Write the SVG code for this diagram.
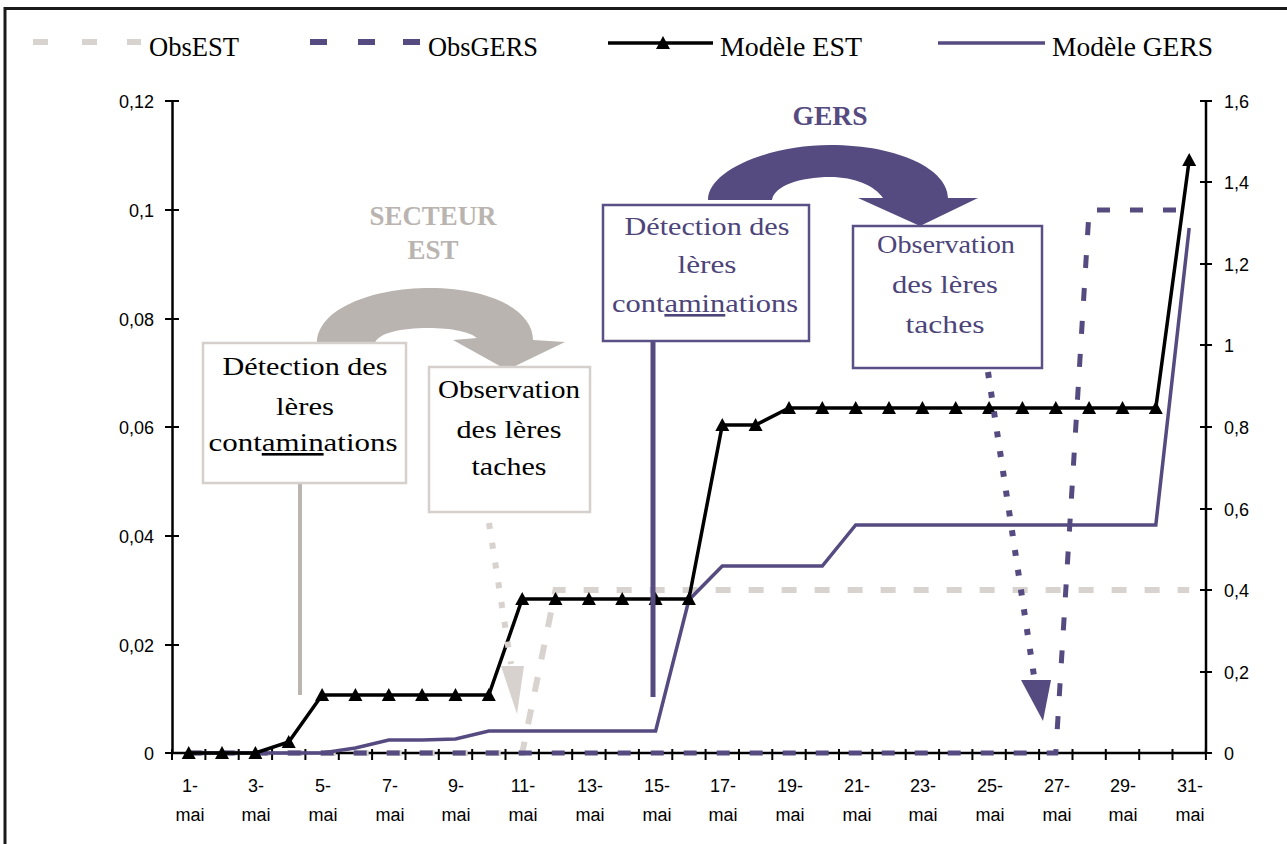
<svg xmlns="http://www.w3.org/2000/svg" width="1287" height="844" viewBox="0 0 1287 844">
<style>
.ser{font-family:"Liberation Serif","DejaVu Serif",serif;}
.sans{font-family:"Liberation Sans",Arial,sans-serif;font-size:18px;fill:#000;}
.leg{font-size:27px;fill:#000;}
.box{font-size:26px;text-anchor:middle;}
.axis{stroke:#000;stroke-width:2.5;fill:none;}
.tick{stroke:#000;stroke-width:2;}
.est{stroke:#000;stroke-width:3.5;fill:none;}
.gers{stroke:#564b80;stroke-width:3.5;fill:none;}
.obsest{stroke:#d9d3cf;stroke-width:6;fill:none;stroke-dasharray:15 18;}
.obsgers{stroke:#564b80;stroke-width:5;fill:none;stroke-dasharray:13 20;}
.gbox{fill:#fff;stroke:#d6d0cc;stroke-width:2.5;}
.pbox{fill:#fff;stroke:#5a5085;stroke-width:2.5;}
</style>
<defs>
<marker id="tri" markerUnits="userSpaceOnUse" markerWidth="16" markerHeight="16" viewBox="-8 -8 16 16" refX="0" refY="0" orient="0">
<path d="M0,-7 L7,6 L-7,6 Z" fill="#000"/>
</marker>
</defs>
<rect x="5" y="8.5" width="1290" height="850" fill="#fff" stroke="#1a1a1a" stroke-width="3"/>

<g id="legend">
<line x1="33" y1="42" x2="141" y2="42" stroke="#d9d3cf" stroke-width="6" stroke-dasharray="15 34 15 30 14 100"/>
<text class="ser leg" x="149" y="56" textLength="90" lengthAdjust="spacingAndGlyphs">ObsEST</text>
<line x1="310" y1="42" x2="420" y2="42" stroke="#564b80" stroke-width="6" stroke-dasharray="17 31 17 28 17 100"/>
<text class="ser leg" x="428" y="56" textLength="110" lengthAdjust="spacingAndGlyphs">ObsGERS</text>
<polyline class="est" points="608,43 663,43 713,43" marker-mid="url(#tri)"/>
<text class="ser leg" x="720" y="56" textLength="142" lengthAdjust="spacingAndGlyphs">Modèle EST</text>
<line class="gers" x1="938" y1="43" x2="1045" y2="43"/>
<text class="ser leg" x="1052" y="56" textLength="161" lengthAdjust="spacingAndGlyphs">Modèle GERS</text>
</g>

<g id="axes">
<line class="axis" x1="172.5" y1="101" x2="172.5" y2="753"/>
<line class="axis" x1="1206" y1="101" x2="1206" y2="753"/>
<line class="axis" x1="172" y1="753" x2="1206" y2="753"/>
<path class="tick" d="M165,101H179M165,210H179M165,319H179M165,427H179M165,536H179M165,645H179M165,753H179"/>
<path class="tick" d="M1200,101H1212M1200,182H1212M1200,264H1212M1200,345H1212M1200,427H1212M1200,509H1212M1200,590H1212M1200,672H1212M1200,753H1212"/>
<path class="tick" d="M172,749V760M205.4,749V760M238.7,749V760M272.1,749V760M305.4,749V760M338.8,749V760M372.1,749V760M405.5,749V760M438.8,749V760M472.2,749V760M505.5,749V760M538.9,749V760M572.2,749V760M605.6,749V760M638.9,749V760M672.3,749V760M705.6,749V760M739,749V760M772.3,749V760M805.7,749V760M839,749V760M872.4,749V760M905.7,749V760M939.1,749V760M972.4,749V760M1005.8,749V760M1039.1,749V760M1072.5,749V760M1105.8,749V760M1139.2,749V760M1172.5,749V760M1205.9,749V760"/>
<g class="sans" text-anchor="end">
<text x="154" y="108">0,12</text>
<text x="154" y="217">0,1</text>
<text x="154" y="326">0,08</text>
<text x="154" y="434">0,06</text>
<text x="154" y="543">0,04</text>
<text x="154" y="652">0,02</text>
<text x="154" y="760">0</text>
</g>
<g class="sans">
<text x="1224" y="108">1,6</text>
<text x="1224" y="189">1,4</text>
<text x="1224" y="271">1,2</text>
<text x="1224" y="352">1</text>
<text x="1224" y="434">0,8</text>
<text x="1224" y="516">0,6</text>
<text x="1224" y="597">0,4</text>
<text x="1224" y="679">0,2</text>
<text x="1224" y="760">0</text>
</g>
<g class="sans" text-anchor="middle">
<text x="190" y="792">1-</text><text x="190" y="821">mai</text>
<text x="256" y="792">3-</text><text x="256" y="821">mai</text>
<text x="323" y="792">5-</text><text x="323" y="821">mai</text>
<text x="390" y="792">7-</text><text x="390" y="821">mai</text>
<text x="456" y="792">9-</text><text x="456" y="821">mai</text>
<text x="523" y="792">11-</text><text x="523" y="821">mai</text>
<text x="590" y="792">13-</text><text x="590" y="821">mai</text>
<text x="657" y="792">15-</text><text x="657" y="821">mai</text>
<text x="723" y="792">17-</text><text x="723" y="821">mai</text>
<text x="790" y="792">19-</text><text x="790" y="821">mai</text>
<text x="857" y="792">21-</text><text x="857" y="821">mai</text>
<text x="923" y="792">23-</text><text x="923" y="821">mai</text>
<text x="990" y="792">25-</text><text x="990" y="821">mai</text>
<text x="1057" y="792">27-</text><text x="1057" y="821">mai</text>
<text x="1123" y="792">29-</text><text x="1123" y="821">mai</text>
<text x="1190" y="792">31-</text><text x="1190" y="821">mai</text>
</g>
</g>

<g id="connectors">
<polyline class="obsest" points="188.7,753 522.2,753 555.5,590 1189.2,590"/>
<polyline class="obsgers" points="188.7,753 1055.8,753 1089.1,210 1189.2,210"/>
<polyline class="gers" points="188.7,753 322.1,753 355.4,748 388.8,740 422.1,740 455.5,739 488.8,731 655.6,731 688.9,600 722.3,566 822.3,566 855.7,525 1155.8,525 1189.2,228"/>
<polyline class="est" marker-start="url(#tri)" marker-mid="url(#tri)" marker-end="url(#tri)" points="188.7,753 222,753 255.4,753 288.7,742 322.1,695 355.4,695 388.8,695 422.1,695 455.5,695 488.8,695 522.2,599 555.5,599 588.9,599 622.2,599 655.6,599 688.9,599 722.3,425 755.6,425 789,408 822.3,408 855.7,408 889,408 922.4,408 955.7,408 989.1,408 1022.4,408 1055.8,408 1089.1,408 1122.5,408 1155.8,408 1189.2,160"/>
<line x1="300" y1="483" x2="300" y2="695" stroke="#bbb5b1" stroke-width="4"/>
<line x1="653" y1="341" x2="653" y2="697" stroke="#564b80" stroke-width="5"/>
<line x1="489" y1="523" x2="511" y2="664" stroke="#d8d2ce" stroke-width="6" stroke-dasharray="6 14"/>
<polygon points="501,666 524,666 517,714" fill="#d8d2ce"/>
<line x1="988" y1="372" x2="1034" y2="676" stroke="#564b80" stroke-width="6" stroke-dasharray="6 14"/>
<polygon points="1021,680 1051,680 1043,721" fill="#564b80"/>
<path d="M317,343 C317,310 370,288 430,288 C490,288 533,310 533,340 L565,342 L507,370 L453,340 L477,338 C470,332 452,328 428,328 C402,328 378,333 375,343 Z" fill="#bab4b0"/>
<path d="M708,200 C708,170 770,145 830,145 C900,145 948,170 948,198 L978,198 L920,226 L858,198 L883,198 C875,186 855,177 830,177 C800,177 774,186 772,200 Z" fill="#564b80"/>
</g>

<g id="label-secteur-est">
<text class="ser" x="433" y="225" font-size="28" font-weight="bold" fill="#bab4b0" text-anchor="middle" textLength="127" lengthAdjust="spacingAndGlyphs">SECTEUR</text>
<text class="ser" x="433" y="259" font-size="28" font-weight="bold" fill="#bab4b0" text-anchor="middle" textLength="51" lengthAdjust="spacingAndGlyphs">EST</text>
</g>
<g id="label-gers">
<text class="ser" x="830" y="125" font-size="28" font-weight="bold" fill="#564b80" text-anchor="middle" textLength="75" lengthAdjust="spacingAndGlyphs">GERS</text>
</g>

<g id="est-detection">
<rect class="gbox" x="203" y="343" width="203" height="140"/>
<text class="ser box" x="305" y="375" fill="#000" textLength="165" lengthAdjust="spacingAndGlyphs">Détection des</text>
<text class="ser box" x="305" y="415" fill="#000" textLength="58" lengthAdjust="spacingAndGlyphs">lères</text>
<text class="ser box" x="303" y="451" fill="#000" textLength="189" lengthAdjust="spacingAndGlyphs">cont<tspan text-decoration="underline">amin</tspan>ations</text>
</g>
<g id="est-observation">
<rect class="gbox" x="429" y="367" width="161" height="145"/>
<text class="ser box" x="509" y="398" fill="#000" textLength="142" lengthAdjust="spacingAndGlyphs">Observation</text>
<text class="ser box" x="509" y="438" fill="#000" textLength="105" lengthAdjust="spacingAndGlyphs">des lères</text>
<text class="ser box" x="509" y="475" fill="#000" textLength="75" lengthAdjust="spacingAndGlyphs">taches</text>
</g>
<g id="gers-detection">
<rect class="pbox" x="603" y="205" width="206" height="136"/>
<text class="ser box" x="707" y="235" fill="#4d4479" textLength="165" lengthAdjust="spacingAndGlyphs">Détection des</text>
<text class="ser box" x="707" y="273" fill="#4d4479" textLength="59" lengthAdjust="spacingAndGlyphs">lères</text>
<text class="ser box" x="705" y="312" fill="#4d4479" textLength="186" lengthAdjust="spacingAndGlyphs">cont<tspan text-decoration="underline">amin</tspan>ations</text>
</g>
<g id="gers-observation">
<rect class="pbox" x="853" y="226" width="189" height="142"/>
<text class="ser box" x="946" y="253" fill="#4d4479" textLength="138" lengthAdjust="spacingAndGlyphs">Observation</text>
<text class="ser box" x="945" y="293" fill="#4d4479" textLength="106" lengthAdjust="spacingAndGlyphs">des lères</text>
<text class="ser box" x="945" y="333" fill="#4d4479" textLength="79" lengthAdjust="spacingAndGlyphs">taches</text>
</g>
</svg>
